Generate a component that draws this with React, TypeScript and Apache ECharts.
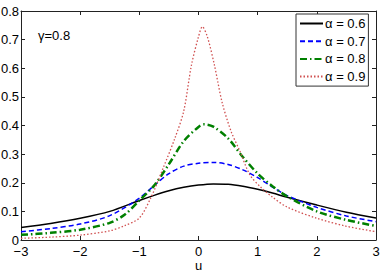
import React, { useEffect, useRef } from "react";
import * as echarts from "echarts";

const uGrid = [-3, -2.5, -2, -1.5, -1, -0.75, -0.5, -0.25, 0, 0.25, 0.5, 0.75, 1, 1.25, 1.5, 2, 2.5, 3];
const alpha06 = [0.044, 0.058, 0.076, 0.1, 0.138, 0.156, 0.172, 0.184, 0.192, 0.196, 0.195, 0.188, 0.177, 0.164, 0.149, 0.122, 0.097, 0.077];
const alpha07 = [0.029, 0.04, 0.056, 0.085, 0.146, 0.19, 0.232, 0.258, 0.268, 0.271, 0.264, 0.245, 0.218, 0.185, 0.155, 0.114, 0.084, 0.064];

const uGreen = [-3, -2.5, -2, -1.5, -1.25, -1, -0.75, -0.5, -0.25, 0, 0.1, 0.25, 0.5, 0.75, 1, 1.25, 1.5, 2, 2.5, 3];
const alpha08 = [0.018, 0.025, 0.036, 0.06, 0.088, 0.138, 0.19, 0.265, 0.345, 0.395, 0.404, 0.396, 0.355, 0.29, 0.232, 0.188, 0.152, 0.1, 0.07, 0.049];

const uRed = [-3, -2.5, -2, -1.5, -1.25, -1, -0.8, -0.6, -0.4, -0.25, -0.12, 0, 0.065, 0.15, 0.27, 0.4, 0.55, 0.7, 0.87, 1.05, 1.25, 1.5, 2, 2.5, 3];
const alpha09 = [0.006, 0.01, 0.017, 0.032, 0.05, 0.077, 0.15, 0.25, 0.355, 0.45, 0.61, 0.71, 0.745, 0.71, 0.61, 0.48, 0.38, 0.31, 0.227, 0.185, 0.15, 0.115, 0.076, 0.048, 0.029];

const seriesNames = ["\u03b1 = 0.6", "\u03b1 = 0.7", "\u03b1 = 0.8", "\u03b1 = 0.9"];
const annotation = "\u03b3=0.8";
const xName = "u";

const FONT = "'Liberation Sans', Arial, Helvetica, sans-serif";

function pairs(xs: number[], ys: number[]) {
  return xs.map((x, i) => [x, ys[i]]);
}

export default function App() {
  const ref = useRef<HTMLDivElement>(null);
  useEffect(() => {
    if (!ref.current) return;
    const chart = echarts.init(ref.current, null, { renderer: "svg" });
    const axisLine = { show: true, onZero: false, lineStyle: { color: "#222", width: 1 } };
    const tick = { show: true, inside: true, length: 4, lineStyle: { color: "#222" } };
    const xCommon = { type: "value" as const, min: -3, max: 3, interval: 1, splitLine: { show: false } };
    const yCommon = { type: "value" as const, min: 0, max: 0.8, interval: 0.1, splitLine: { show: false } };
    chart.setOption({
      animation: false,
      backgroundColor: "#fff",
      grid: { left: 21, top: 11, width: 355, height: 229, containLabel: false, outerBoundsMode: "none" },
      xAxis: [
        {
          ...xCommon,
          position: "bottom",
          axisLine,
          axisTick: tick,
          axisLabel: {
            color: "#000",
            fontSize: 13,
            fontFamily: FONT,
            margin: 5,
            formatter: (v: number) => String(v).replace("-", "\u2212"),
          },
          name: xName,
          nameLocation: "middle",
          nameGap: 19,
          nameMoveOverlap: false,
          nameTextStyle: { color: "#000", fontSize: 13, fontFamily: FONT },
        },
        { ...xCommon, position: "top", axisLine, axisTick: tick, axisLabel: { show: false } },
      ],
      yAxis: [
        {
          ...yCommon,
          position: "left",
          axisLine,
          axisTick: tick,
          axisLabel: { color: "#000", fontSize: 13, fontFamily: FONT, margin: 2 },
        },
        { ...yCommon, position: "right", axisLine, axisTick: tick, axisLabel: { show: false } },
      ],
      legend: {
        orient: "vertical",
        left: 296,
        top: 14,
        padding: [3, 3, 3, 3],
        itemGap: 4.7,
        itemWidth: 23,
        itemHeight: 14,
        backgroundColor: "#fff",
        borderColor: "#333",
        borderWidth: 1,
        borderRadius: 0,
        itemStyle: { opacity: 0 },
        textStyle: { color: "#000", fontSize: 13, fontFamily: FONT, padding: [0, 0, 0, -3] },
        data: seriesNames,
      },
      graphic: [
        {
          type: "text",
          left: 38,
          top: 29,
          style: { text: annotation, fill: "#000", fontSize: 13, fontFamily: FONT },
        },
      ],
      series: [
        {
          name: seriesNames[0],
          type: "line",
          data: pairs(uGrid, alpha06),
          smooth: 0.3,
          showSymbol: false,
          symbol: "none",
          lineStyle: { color: "#000", width: 1.5, type: "solid" },
          itemStyle: { color: "#000" },
        },
        {
          name: seriesNames[1],
          type: "line",
          data: pairs(uGrid, alpha07),
          smooth: 0.3,
          showSymbol: false,
          symbol: "none",
          lineStyle: { color: "#0000ff", width: 1.5, type: [5, 3] },
          itemStyle: { color: "#0000ff" },
        },
        {
          name: seriesNames[2],
          type: "line",
          data: pairs(uGreen, alpha08),
          smooth: 0.3,
          showSymbol: false,
          symbol: "none",
          lineStyle: { color: "#008000", width: 2.5, type: [7, 3, 1.5, 3] },
          itemStyle: { color: "#008000" },
        },
        {
          name: seriesNames[3],
          type: "line",
          data: pairs(uRed, alpha09),
          smooth: 0.3,
          showSymbol: false,
          symbol: "none",
          lineStyle: { color: "#d05050", width: 1.3, type: [1.5, 2] },
          itemStyle: { color: "#d05050" },
        },
      ],
    });
    return () => chart.dispose();
  }, []);
  return <div ref={ref} style={{ position: "absolute", left: 0, top: 0, width: 382, height: 272 }} />;
}
